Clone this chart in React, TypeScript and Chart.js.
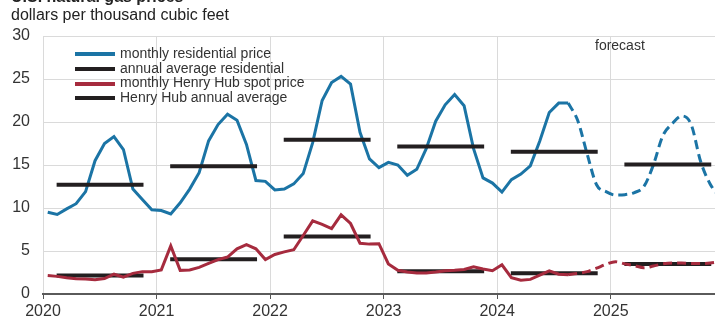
import React, { useEffect, useRef } from "react";
import { Chart, registerables } from "chart.js";

Chart.register(...registerables);

// ---------- data ----------
const years = [2020, 2021, 2022, 2023, 2024, 2025];

// monthly residential price, Jan 2020 – Aug 2024 (history)
const residentialMonthly = [
  9.5, 9.25, 9.9, 10.5, 11.9, 15.5, 17.5, 18.3, 16.8, 12.2, 11.0, 9.8,
  9.7, 9.3, 10.6, 12.2, 14.1, 17.8, 19.7, 20.9, 20.2, 17.4, 13.2, 13.1,
  12.1, 12.2, 12.8, 14.0, 17.6, 22.5, 24.6, 25.3, 24.4, 18.8, 15.7, 14.7,
  15.3, 15.0, 13.8, 14.5, 16.9, 20.1, 22.0, 23.2, 21.9, 16.9, 13.5, 12.9,
  11.85, 13.3, 13.95, 14.9, 17.8, 21.1, 22.2, 22.2,
];
// forecast, Sep 2024 – Dec 2025
const residentialForecast = [
  20.2, 16.3, 12.7, 11.9,
  11.5, 11.55, 11.8, 12.5, 15.0, 18.4, 19.8, 20.7, 19.7, 15.4, 12.8, 11.3,
];

// monthly Henry Hub spot price, Jan 2020 – Aug 2024 (history)
const henryHubMonthly = [
  2.15, 2.05, 1.9, 1.78, 1.75, 1.65, 1.8, 2.3, 1.95, 2.4, 2.6, 2.6,
  2.8, 5.6, 2.75, 2.8, 3.1, 3.55, 4.0, 4.3, 5.25, 5.75, 5.25, 4.0,
  4.6, 4.9, 5.15, 6.8, 8.5, 8.1, 7.6, 9.2, 8.2, 5.9, 5.8, 5.85,
  3.5, 2.75, 2.55, 2.45, 2.45, 2.55, 2.7, 2.75, 2.85, 3.15, 2.9, 2.7,
  3.4, 1.9, 1.6, 1.7, 2.2, 2.7, 2.3, 2.25,
];
// forecast, Sep 2024 – Dec 2025
const henryHubForecast = [
  2.4, 2.6, 3.0, 3.45,
  3.75, 3.5, 3.3, 3.05, 3.25, 3.5, 3.6, 3.6, 3.55, 3.55, 3.6, 3.75,
];

const residentialAnnual = [12.7, 14.85, 17.95, 17.15, 16.55, 15.05];
const henryHubAnnual = [2.15, 4.05, 6.7, 2.65, 2.4, 3.5];

const yTicks = [0, 5, 10, 15, 20, 25, 30];

const legendLabels = [
  "monthly residential price",
  "annual average residential",
  "monthly Henry Hub spot price",
  "Henry Hub annual average",
];

// ---------- styles ----------
const BLUE = "#1b74a5";
const RED = "#a62b3e";
const BLACK = "#231f20";
const GRID = "#dadada";
const TEXT = "#333333";
const FONT = "'Liberation Sans', Arial, Helvetica, sans-serif";

const monthX = (i: number) => years[0] + (i + 0.5) / 12;

function monthlyPoints(values: number[], startIndex: number) {
  return values.map((v, k) => ({ x: monthX(startIndex + k), y: v }));
}

function annualPoints(values: number[]) {
  const pts: { x: number; y: number | null }[] = [];
  values.forEach((v, k) => {
    pts.push({ x: years[k] + 0.12, y: v });
    pts.push({ x: years[k] + 0.885, y: v });
    pts.push({ x: years[k] + 0.95, y: null });
  });
  return pts;
}

export default function App() {
  const canvasRef = useRef<HTMLCanvasElement | null>(null);

  useEffect(() => {
    const canvas = canvasRef.current;
    if (!canvas) return;
    const nHist = residentialMonthly.length;

    const resHist = monthlyPoints(residentialMonthly, 0);
    const resFc = [
      resHist[nHist - 1],
      ...monthlyPoints(residentialForecast, nHist),
    ];
    const hhHist = monthlyPoints(henryHubMonthly, 0);
    const hhFc = [
      hhHist[henryHubMonthly.length - 1],
      ...monthlyPoints(henryHubForecast, henryHubMonthly.length),
    ];

    const chart = new Chart(canvas, {
      type: "line",
      data: {
        datasets: [
          {
            label: legendLabels[2],
            data: hhHist,
            borderColor: RED,
            borderWidth: 3,
            pointRadius: 0,
            tension: 0,
          },
          {
            label: "Henry Hub forecast",
            data: hhFc,
            borderColor: RED,
            borderWidth: 3,
            borderDash: [9, 5],
            pointRadius: 0,
            cubicInterpolationMode: "monotone",
          },
          {
            label: legendLabels[3],
            data: annualPoints(henryHubAnnual),
            borderColor: BLACK,
            borderWidth: 4,
            pointRadius: 0,
            spanGaps: false,
          },
          {
            label: legendLabels[1],
            data: annualPoints(residentialAnnual),
            borderColor: BLACK,
            borderWidth: 4,
            pointRadius: 0,
            spanGaps: false,
          },
          {
            label: legendLabels[0],
            data: resHist,
            borderColor: BLUE,
            borderWidth: 3,
            pointRadius: 0,
            tension: 0,
          },
          {
            label: "residential forecast",
            data: resFc,
            borderColor: BLUE,
            borderWidth: 3,
            borderDash: [9, 5],
            pointRadius: 0,
            cubicInterpolationMode: "monotone",
          },
        ],
      },
      options: {
        animation: false,
        responsive: false,
        devicePixelRatio: 1,
        parsing: false as any,
        normalized: true,
        layout: { padding: { top: 36, left: 0, right: 0, bottom: 0 } },
        plugins: {
          legend: { display: false },
          tooltip: { enabled: false },
          title: { display: false },
        },
        scales: {
          x: {
            type: "linear",
            min: years[0],
            max: 2025.918,
            afterBuildTicks: (scale: any) => {
              scale.ticks = years.map((v) => ({ value: v }));
            },
            afterFit: (scale: any) => {
              scale.height = 28;
            },
            ticks: {
              autoSkip: false,
              maxRotation: 0,
              padding: 3,
              color: TEXT,
              font: { family: FONT, size: 16 },
              callback: (v: any) => String(v),
            },
            grid: {
              color: GRID,
              lineWidth: 1,
              drawTicks: true,
              tickLength: 5,
              tickColor: "#555555",
              tickWidth: 1,
            },
            border: { display: true, color: "#5a5a5a", width: 2 },
          },
          y: {
            type: "linear",
            min: 0,
            max: 30,
            afterBuildTicks: (scale: any) => {
              scale.ticks = yTicks.map((v) => ({ value: v }));
            },
            afterFit: (scale: any) => {
              scale.width = 43;
            },
            ticks: {
              padding: 13,
              color: TEXT,
              font: { family: FONT, size: 16 },
            },
            grid: { color: GRID, lineWidth: 1, drawTicks: false },
            border: { display: false },
          },
        },
      },
    });
    return () => chart.destroy();
  }, []);

  const legendColors = [BLUE, BLACK, RED, BLACK];
  const legendY = [54, 68.8, 83.6, 98.4];

  return (
    <div
      style={{
        position: "absolute",
        left: 0,
        top: 0,
        width: 715,
        height: 322,
        overflow: "hidden",
        background: "#ffffff",
        fontFamily: FONT,
        color: TEXT,
      }}
    >
      <canvas
        ref={canvasRef}
        width={715}
        height={322}
        style={{ position: "absolute", left: 0, top: 0, width: 715, height: 322 }}
      />
      <div
        style={{
          position: "absolute",
          left: 11,
          top: -12.2,
          fontSize: 16,
          lineHeight: "18px",
          fontWeight: "bold",
          whiteSpace: "nowrap",
          color: "#222",
        }}
      >
        U.S. natural gas prices
      </div>
      <div
        style={{
          position: "absolute",
          left: 11,
          top: 6.3,
          fontSize: 16,
          lineHeight: "18px",
          whiteSpace: "nowrap",
          color: "#222",
        }}
      >
        dollars per thousand cubic feet
      </div>
      <div
        style={{
          position: "absolute",
          left: 595,
          top: 37,
          fontSize: 14,
          lineHeight: "16px",
          whiteSpace: "nowrap",
        }}
      >
        forecast
      </div>
      {legendLabels.map((label, i) => (
        <React.Fragment key={label}>
          <div
            style={{
              position: "absolute",
              left: 75,
              top: legendY[i] - 2,
              width: 40,
              height: 4,
              background: legendColors[i],
            }}
          />
          <div
            style={{
              position: "absolute",
              left: 120,
              top: legendY[i] - 9.2,
              fontSize: 14,
              lineHeight: "16px",
              whiteSpace: "nowrap",
            }}
          >
            {label}
          </div>
        </React.Fragment>
      ))}
    </div>
  );
}
